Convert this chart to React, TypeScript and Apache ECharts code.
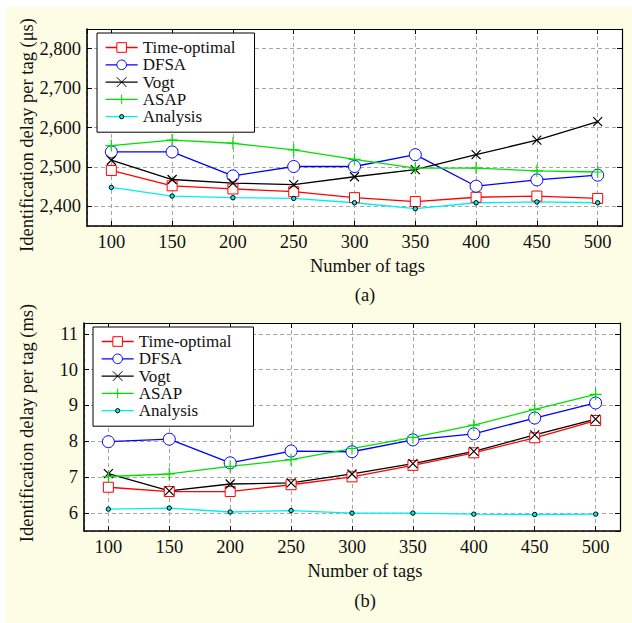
import React, { useEffect, useRef } from 'react';
import * as echarts from 'echarts';

// ---------- data ----------
const tagCounts = [100, 150, 200, 250, 300, 350, 400, 450, 500];
const seriesNames = ['Time-optimal', 'DFSA', 'Vogt', 'ASAP', 'Analysis'];

// (a) identification delay per tag, microseconds
const usTimeOptimal = [2491, 2452, 2444, 2437, 2422, 2412, 2423, 2426, 2420];
const usDFSA = [2538, 2538, 2477, 2501, 2501, 2531, 2451, 2467, 2479];
const usVogt = [2517, 2468, 2459, 2455, 2475, 2493, 2531, 2568, 2615];
const usASAP = [2554, 2568, 2560, 2543, 2519, 2497, 2497, 2490, 2487];
const usAnalysis = [2448, 2426, 2422, 2420, 2409, 2394, 2409, 2411, 2409];

// (b) identification delay per tag, milliseconds
const msTimeOptimal = [6.72, 6.6, 6.6, 6.79, 7.01, 7.33, 7.68, 8.1, 8.58];
const msDFSA = [7.99, 8.06, 7.4, 7.73, 7.71, 8.04, 8.21, 8.65, 9.07];
const msVogt = [7.1, 6.62, 6.81, 6.84, 7.09, 7.38, 7.72, 8.18, 8.62];
const msASAP = [7.02, 7.09, 7.3, 7.49, 7.8, 8.11, 8.45, 8.89, 9.31];
const msAnalysis = [6.11, 6.14, 6.03, 6.07, 6.0, 6.0, 5.97, 5.96, 5.97];

// axis ranges
const xRange = [80, 520];
const usRange = [2350, 2850];
const msRange = [5.5, 11.3];

// ---------- styles ----------
const FONT = "'Liberation Serif', 'Times New Roman', Times, serif";
const FS = 18.5;
const TEXT = { fontFamily: FONT, fontSize: FS, color: '#111' };

const STYLE: Record<string, any> = {
  'Time-optimal': { color: '#ff0000', symbol: 'rect', size: 10, fill: '#ffffff', stroke: '#ff0000', bw: 1 },
  DFSA: { color: '#0000ff', symbol: 'circle', size: 12, fill: '#ffffff', stroke: '#0000ff', bw: 1 },
  Vogt: { color: '#000000', symbol: 'path://M0,0L10,10M10,0L0,10', size: 9, fill: 'none', stroke: '#000000', bw: 1.2 },
  ASAP: { color: '#00e000', symbol: 'path://M5,0L5,10M0,5L10,5', size: 12, fill: 'none', stroke: '#00e000', bw: 1.2 },
  Analysis: {
    color: '#00eeee',
    symbol: 'path://M0,0M10,10M7.2,5A2.2,2.2,0,1,1,2.8,5A2.2,2.2,0,1,1,7.2,5Z',
    size: 10, fill: '#00eeee', stroke: '#000000', bw: 1,
  },
};

function fmtThousands(v: number) {
  return String(Math.round(v)).replace(/\B(?=(\d{3})+(?!\d))/g, ',');
}

function xAxisFor(gridIndex: number, position: 'top' | 'bottom', main: boolean) {
  return {
    type: 'value', gridIndex, position, min: xRange[0], max: xRange[1], splitNumber: 9,
    axisLine: { show: true, onZero: false, lineStyle: { color: '#000', width: main ? 1.6 : 1.2 } },
    axisTick: { show: true, inside: true, length: 5, lineStyle: { color: '#000', width: 1 } },
    axisLabel: main
      ? { show: true, margin: 6, showMinLabel: false, showMaxLabel: false, ...TEXT }
      : { show: false },
    splitLine: main
      ? { show: true, lineStyle: { color: '#a6a6a6', type: [4, 3], width: 1 } }
      : { show: false },
    name: main ? 'Number of tags' : '',
    nameLocation: 'middle', nameGap: 30,
    nameTextStyle: { ...TEXT, padding: [0, 0, 0, 26] },
  };
}

function yAxisFor(gridIndex: number, position: 'left' | 'right', main: boolean, range: number[], split: number, fmt?: (v: number) => string) {
  return {
    type: 'value', gridIndex, position, min: range[0], max: range[1], splitNumber: split,
    axisLine: { show: true, onZero: false, lineStyle: { color: '#000', width: main ? 1.6 : 1.2 } },
    axisTick: { show: true, inside: true, length: 5, lineStyle: { color: '#000', width: 1 } },
    axisLabel: main
      ? { show: true, margin: 6, showMinLabel: false, showMaxLabel: false, formatter: fmt, ...TEXT }
      : { show: false },
    splitLine: main
      ? { show: true, lineStyle: { color: '#a6a6a6', type: [4, 3], width: 1 } }
      : { show: false },
  };
}

function makeSeries(name: string, values: number[], axisIndex: number) {
  const s = STYLE[name];
  return {
    type: 'line', name, xAxisIndex: axisIndex, yAxisIndex: axisIndex,
    data: tagCounts.map((x, i) => [x, values[i]]),
    symbol: s.symbol, symbolSize: s.size, showSymbol: true,
    lineStyle: { color: s.color, width: 1.3 },
    itemStyle: { color: s.fill, borderColor: s.stroke, borderWidth: s.bw },
    emphasis: { disabled: true },
  };
}

function legendFor(left: number, top: number, padRight: number) {
  return {
    orient: 'vertical', left, top, data: seriesNames, selectedMode: false,
    backgroundColor: '#ffffff', borderColor: '#000', borderWidth: 1,
    padding: [6, padRight, 7, 8],
    itemWidth: 32, itemHeight: 12, itemGap: 0.3,
    itemStyle: { borderWidth: 1 },
    lineStyle: { width: 1.3 },
    textStyle: { ...TEXT, fontSize: 17 },
  };
}

const option: any = {
  animation: false,
  backgroundColor: '#fdfde5',
  grid: [
    { left: 87, top: 29, width: 535, height: 197, show: true, backgroundColor: '#ffffff', borderWidth: 0, outerBoundsMode: 'none' },
    { left: 84, top: 323, width: 536, height: 208, show: true, backgroundColor: '#ffffff', borderWidth: 0, outerBoundsMode: 'none' },
  ],
  xAxis: [
    xAxisFor(0, 'bottom', true),
    xAxisFor(1, 'bottom', true),
    xAxisFor(0, 'top', false),
    xAxisFor(1, 'top', false),
  ],
  yAxis: [
    yAxisFor(0, 'left', true, usRange, 5, fmtThousands),
    yAxisFor(1, 'left', true, msRange, 6),
    yAxisFor(0, 'right', false, usRange, 5),
    yAxisFor(1, 'right', false, msRange, 6),
  ],
  legend: [legendFor(97, 33, 19), legendFor(93, 327, 22)],
  series: [
    makeSeries('Time-optimal', usTimeOptimal, 0),
    makeSeries('DFSA', usDFSA, 0),
    makeSeries('Vogt', usVogt, 0),
    makeSeries('ASAP', usASAP, 0),
    makeSeries('Analysis', usAnalysis, 0),
    makeSeries('Time-optimal', msTimeOptimal, 1),
    makeSeries('DFSA', msDFSA, 1),
    makeSeries('Vogt', msVogt, 1),
    makeSeries('ASAP', msASAP, 1),
    makeSeries('Analysis', msAnalysis, 1),
  ],
  graphic: [
    { type: 'rect', silent: true, shape: { x: 0, y: 0, width: 632, height: 7 }, style: { fill: '#ffffff' } },
    { type: 'rect', silent: true, shape: { x: 0, y: 0, width: 6, height: 623 }, style: { fill: '#ffffff' } },
    {
      type: 'text', x: 27, y: 135, rotation: Math.PI / 2, silent: true,
      style: { text: 'Identification delay per tag (μs)', font: `${FS}px ${FONT}`, fill: '#111', align: 'center', verticalAlign: 'middle' },
    },
    {
      type: 'text', x: 27, y: 423, rotation: Math.PI / 2, silent: true,
      style: { text: 'Identification delay per tag (ms)', font: `${FS}px ${FONT}`, fill: '#111', align: 'center', verticalAlign: 'middle' },
    },
    {
      type: 'text', x: 365, y: 295, silent: true,
      style: { text: '(a)', font: `${FS}px ${FONT}`, fill: '#111', align: 'center', verticalAlign: 'middle' },
    },
    {
      type: 'text', x: 365, y: 601, silent: true,
      style: { text: '(b)', font: `${FS}px ${FONT}`, fill: '#111', align: 'center', verticalAlign: 'middle' },
    },
  ],
};

export default function App() {
  const ref = useRef<HTMLDivElement>(null);
  useEffect(() => {
    if (!ref.current) return;
    const chart = echarts.init(ref.current, null, { renderer: 'svg' });
    chart.setOption(option);
    return () => chart.dispose();
  }, []);
  return <div ref={ref} style={{ position: 'absolute', left: 0, top: 0, width: 632, height: 623 }} />;
}
